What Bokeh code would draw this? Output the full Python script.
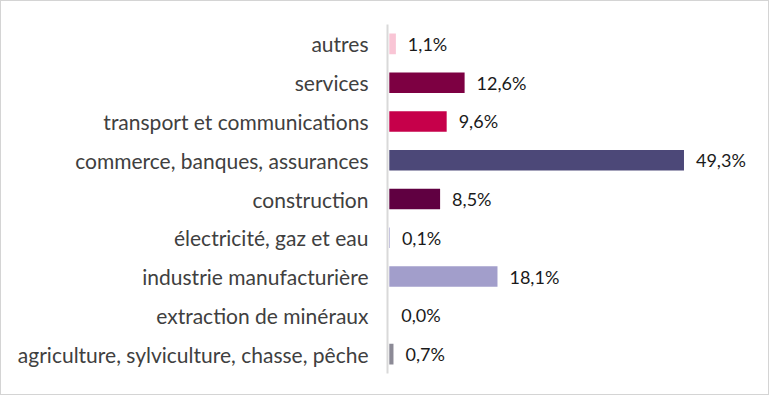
from bokeh.plotting import figure
from bokeh.models import ColumnDataSource, Range1d
from bokeh.embed import file_html
from bokeh.resources import INLINE
from bokeh.core.properties import value

categories = [
    "agriculture, sylviculture, chasse, pêche",
    "extraction de minéraux",
    "industrie manufacturière",
    "électricité, gaz et eau",
    "construction",
    "commerce, banques, assurances",
    "transport et communications",
    "services",
    "autres",
]
shares = [0.7, 0.0, 18.1, 0.1, 8.5, 49.3, 9.6, 12.6, 1.1]
labels = ["0,7%", "0,0%", "18,1%", "0,1%", "8,5%", "49,3%", "9,6%", "12,6%", "1,1%"]
colors = ["#8c8a96", "#a29ecb", "#a29ecb", "#a29ecb", "#600041",
          "#4c4878", "#c6004a", "#7d0042", "#f9c5d5"]

FONT = "Lato"

src = ColumnDataSource(dict(cat=categories, val=shares, lab=labels, col=colors))

p = figure(y_range=categories, width=769, height=395,
           output_backend="svg", toolbar_location=None,
           min_border_left=386, min_border_right=10,
           min_border_top=23, min_border_bottom=23)
p.styles = {"border": "1px solid #d4d4d4", "box-sizing": "border-box"}
p.x_range = Range1d(-0.3, 62.1)

p.hbar(y="cat", right="val", left=0, height=0.53, fill_color="col",
       line_color=None, source=src)
p.text(x="val", y="cat", text="lab", source=src, x_offset=12,
       text_baseline="middle", text_align="left",
       text_font=value(FONT), text_font_size="18px", text_color="#1a1a1a")

p.xaxis.visible = False
p.xgrid.visible = False
p.ygrid.visible = False
p.outline_line_color = None
yax = p.yaxis[0]
yax.axis_line_color = "#d9d9d9"
yax.axis_line_width = 2
yax.major_tick_line_color = None
yax.minor_tick_line_color = None
yax.major_tick_out = 0
yax.major_label_standoff = 19
yax.major_label_text_font = FONT
yax.major_label_text_font_size = "21px"
yax.major_label_text_color = "#404040"

open("out.html", "w").write(file_html(p, INLINE))
